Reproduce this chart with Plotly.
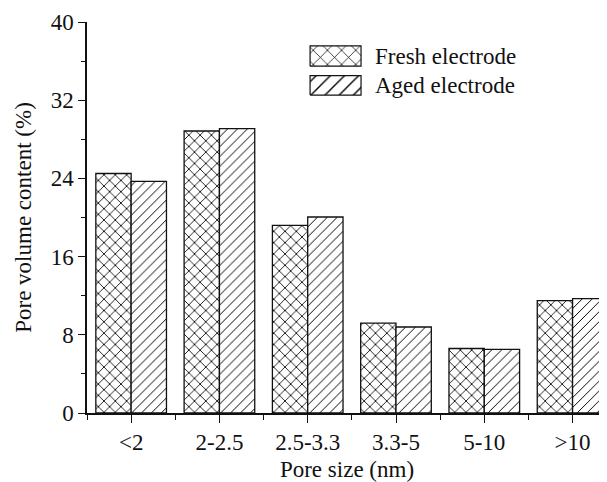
import plotly.graph_objects as go

categories = ["<2", "2-2.5", "2.5-3.3", "3.3-5", "5-10", ">10"]
fresh = [24.5, 28.85, 19.2, 9.2, 6.6, 11.5]
aged = [23.7, 29.1, 20.05, 8.8, 6.5, 11.7]
series_names = ["Fresh electrode", "Aged electrode"]
y_ticks = [0, 8, 16, 24, 32, 40]

FONT = "Liberation Serif"
INK = "#111111"
FS = 23
xpos = list(range(len(categories)))

fig = go.Figure()
fig.add_trace(go.Bar(
    x=xpos, y=fresh, name=series_names[0], showlegend=False,
    marker=dict(color="white", line=dict(color=INK, width=1.3),
                pattern=dict(shape="x", fgcolor="black", bgcolor="white", size=8,
                             solidity=0.2, fgopacity=1)),
))
fig.add_trace(go.Bar(
    x=xpos, y=aged, name=series_names[1], showlegend=False,
    marker=dict(color="white", line=dict(color=INK, width=1.3),
                pattern=dict(shape="/", fgcolor="black", bgcolor="white", size=7,
                             solidity=0.14, fgopacity=1)),
))

# legend swatches on an overlay axis (0..1 of plot area)
legend_boxes = [(0.429, 0.527, 0.887, 0.939, "x"), (0.429, 0.527, 0.813, 0.863, "/")]
for (x0, x1, y0, y1, shp), nm in zip(legend_boxes, series_names):
    fig.add_trace(go.Scatter(
        x=[x0, x1, x1, x0, x0], y=[y0, y0, y1, y1, y0], mode="lines", fill="toself",
        fillcolor="white", line=dict(color=INK, width=1.2), showlegend=False, hoverinfo="skip",
        fillpattern=dict(shape=shp, fgcolor="black", bgcolor="white", size=10,
                         solidity=0.14, fgopacity=1),
        xaxis="x2", yaxis="y2",
    ))
    fig.add_annotation(x=0.55, y=(y0 + y1) / 2, xref="x2", yref="y2", text=nm,
                       showarrow=False, xanchor="left", yanchor="middle",
                       font=dict(family=FONT, size=FS, color=INK))

# page body adds an 8px offset; figure sized to fit the 607x482 window
fig.update_layout(
    width=599, height=474,
    margin=dict(l=79, r=0, t=14, b=69),
    paper_bgcolor="white", plot_bgcolor="white",
    barmode="group", bargap=0.2, bargroupgap=0,
    font=dict(family=FONT, size=FS, color=INK),
    xaxis=dict(
        range=[-0.5, 5.39], tickmode="array", tickvals=xpos, ticktext=categories,
        showline=True, linecolor=INK, linewidth=1.5, showgrid=False, zeroline=False,
        ticks="outside", ticklen=8, tickwidth=1.3, tickcolor=INK,
        minor=dict(tickmode="array", tickvals=[i - 0.5 for i in xpos] + [5.5],
                   ticks="outside", ticklen=5, tickwidth=1.3, tickcolor=INK, showgrid=False),
        title=dict(text="Pore size (nm)", standoff=9, font=dict(family=FONT, size=FS)),
        tickfont=dict(family=FONT, size=FS),
    ),
    yaxis=dict(
        range=[0, 40], tickmode="array", tickvals=y_ticks,
        showline=True, linecolor=INK, linewidth=1.5, showgrid=False, zeroline=False,
        ticks="outside", ticklen=7, tickwidth=1.3, tickcolor=INK,
        minor=dict(tickmode="array", tickvals=[4, 12, 20, 28, 36],
                   ticks="outside", ticklen=4, tickwidth=1.3, tickcolor=INK, showgrid=False),
        title=dict(text="Pore volume content (%)", standoff=13, font=dict(family=FONT, size=FS)),
        tickfont=dict(family=FONT, size=FS),
    ),
    xaxis2=dict(range=[0, 1], overlaying="x", visible=False),
    yaxis2=dict(range=[0, 1], overlaying="y", visible=False),
)

fig.write_html("out.html")
